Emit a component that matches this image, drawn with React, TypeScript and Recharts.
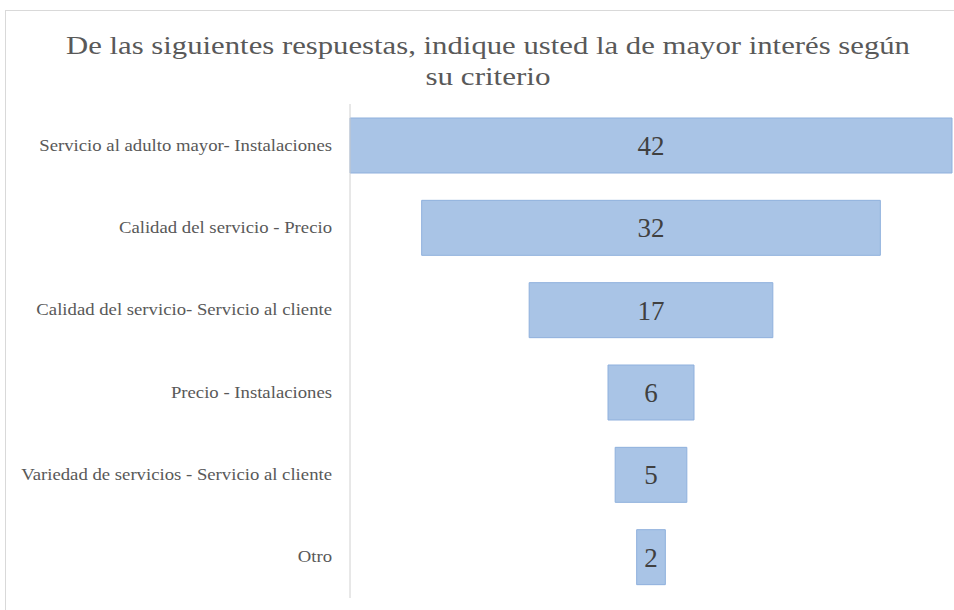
import React from "react";
import { BarChart, Bar, XAxis, YAxis, LabelList } from "recharts";

const categories = [
  "Servicio al adulto mayor- Instalaciones",
  "Calidad del servicio - Precio",
  "Calidad del servicio- Servicio al cliente",
  "Precio - Instalaciones",
  "Variedad de servicios - Servicio al cliente",
  "Otro",
];
const values = [42, 32, 17, 6, 5, 2];
const titleLines = [
  "De las siguientes respuestas, indique usted la de mayor interés según",
  "su criterio",
];

const maxValue = Math.max(...values);
// invisible offset centers each bar -> funnel
const data = categories.map((name, i) => ({
  name,
  offset: (maxValue - values[i]) / 2,
  value: values[i],
}));

const SERIF = "'Times New Roman', 'Liberation Serif', 'DejaVu Serif', serif";

function CategoryTick({ x, y, payload }: any) {
  const ax = x - 10;
  return (
    <text
      x={0}
      y={0}
      transform={`translate(${ax},${y}) scale(1.17,1)`}
      textAnchor="end"
      dominantBaseline="central"
      fill="#595959"
      fontSize={16}
      style={{ fontFamily: SERIF }}
    >
      {payload.value}
    </text>
  );
}

export default function App() {
  return (
    <div style={{ position: "absolute", left: 0, top: 0, width: 954, height: 610, background: "#fff" }}>
      <div
        style={{
          position: "absolute",
          left: 5,
          top: 10,
          width: 960,
          height: 640,
          border: "1px solid #d9d9d9",
        }}
      />
      <svg width={954} height={100} style={{ position: "absolute", left: 0, top: 0 }}>
        <text
          x={488}
          y={54}
          textAnchor="middle"
          fill="#595959"
          fontSize={26}
          style={{ fontFamily: SERIF }}
          textLength={844}
          lengthAdjust="spacingAndGlyphs"
        >
          {titleLines[0]}
        </text>
        <text
          x={488}
          y={85}
          textAnchor="middle"
          fill="#595959"
          fontSize={26}
          style={{ fontFamily: SERIF }}
          textLength={125}
          lengthAdjust="spacingAndGlyphs"
        >
          {titleLines[1]}
        </text>
      </svg>
      <div style={{ position: "absolute", left: 0, top: 0 }}>
        <BarChart
          width={954}
          height={610}
          data={data}
          layout="vertical"
          margin={{ top: 104, right: 2, bottom: 12, left: 0 }}
        >
          <XAxis type="number" domain={[0, maxValue]} hide />
          <YAxis
            type="category"
            dataKey="name"
            width={350}
            axisLine={{ stroke: "#d0d0d0" }}
            tickLine={false}
            tick={<CategoryTick />}
            interval={0}
          />
          <Bar dataKey="offset" stackId="f" fill="transparent" barSize={55} isAnimationActive={false} />
          <Bar
            dataKey="value"
            stackId="f"
            fill="#a9c4e6"
            stroke="#8fb0dd"
            strokeWidth={1}
            barSize={55}
            isAnimationActive={false}
          >
            <LabelList
              dataKey="value"
              position="center"
              fill="#404040"
              fontSize={27}
              style={{ fontFamily: SERIF }}
            />
          </Bar>
        </BarChart>
      </div>
    </div>
  );
}
